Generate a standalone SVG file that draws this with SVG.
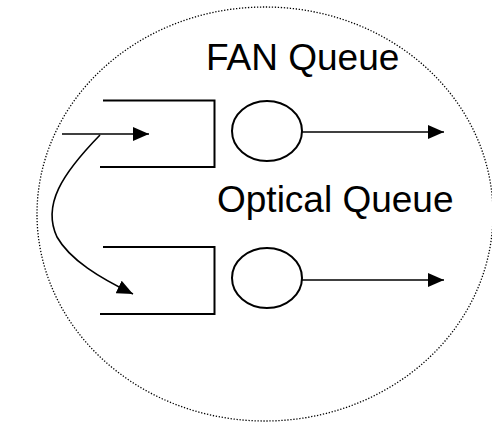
<svg xmlns="http://www.w3.org/2000/svg" width="492" height="423" viewBox="0 0 492 423">
<style>
.q{fill:none;stroke:#000;stroke-width:2}
.c{fill:#fff;stroke:#000;stroke-width:2}
.a{fill:none;stroke:#000;stroke-width:1.6}
.t{font-family:"Liberation Sans",Arial,sans-serif;font-size:37px;fill:#000}
</style>
<defs>
<marker id="ah" markerUnits="userSpaceOnUse" markerWidth="18" markerHeight="14" refX="16" refY="7" orient="auto">
<path d="M0,0 L16,7 L0,14 Z" fill="#000"/>
</marker>
</defs>
<rect width="492" height="423" fill="#fff"/>
<ellipse id="boundary" cx="265" cy="214" rx="228" ry="207" fill="none" stroke="#000" stroke-width="1.3" stroke-dasharray="1.3 1.7"/>
<g id="fan-label"><text class="t" x="206" y="70">FAN Queue</text></g>
<g id="optical-label"><text class="t" x="217" y="212">Optical Queue</text></g>
<g id="fan-queue">
<path class="q" d="M103,100.5 H214.5 V167 H100"/>
</g>
<g id="fan-server"><ellipse class="c" cx="267" cy="131" rx="35" ry="30"/></g>
<g id="optical-queue">
<path class="q" d="M103,247 H214.5 V314 H100"/>
</g>
<g id="optical-server"><ellipse class="c" cx="267" cy="278" rx="35" ry="30"/></g>
<g id="connectors">
<line class="a" x1="62" y1="134" x2="149" y2="134" marker-end="url(#ah)"/>
<line class="a" x1="301" y1="132" x2="444" y2="132" marker-end="url(#ah)"/>
<line class="a" x1="301" y1="280" x2="444" y2="280" marker-end="url(#ah)"/>
<path class="a" d="M100,135 C62,174 42,205 57,237 C70,260 100,278 133,294" marker-end="url(#ah)"/>
</g>
</svg>
